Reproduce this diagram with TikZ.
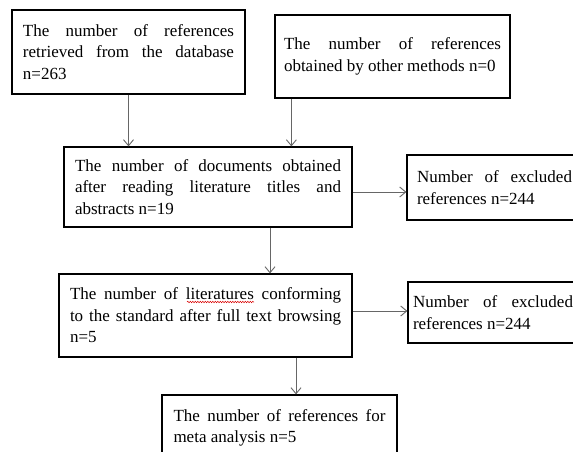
\documentclass[tikz,border=0pt]{standalone}
\usepackage{fontspec}
\setmainfont{Liberation Serif}
\usepackage{tikz}
\usetikzlibrary{arrows.meta,decorations.pathmorphing}
\tikzstyle{blk}=[draw, line width=1.2pt, align=justify, inner xsep=11pt, inner ysep=0pt, font=\fontsize{17}{21.5}\selectfont]
\tikzstyle{flow}=[->, draw=black!60, line width=0.9pt]
\tikzstyle{spell}=[draw=red!85!black, line width=0.5pt, decorate, decoration={snake, amplitude=0.7pt, segment length=2.5pt}]

\begin{document}
\begin{tikzpicture}[x=1pt,y=-1pt,>={Straight Barb[length=6pt,width=10pt]}]
    \useasboundingbox (0,0) rectangle (573,452);
    \clip (0,0) rectangle (573,452);
    \node [blk, text width=211pt, minimum height=84pt] (db) at (128.5,52) {The number of references\linebreak retrieved from the database\linebreak n=263};
    \node [blk, text width=217pt, inner xsep=9pt, minimum height=83pt] (other) at (392.5,56.5) {The number of references\linebreak obtained by other methods n=0};
    \node [blk, text width=266pt, minimum height=80pt] (titles) at (208,187) {The number of documents obtained\linebreak after reading literature titles and\linebreak abstracts n=19};
    \node [blk, text width=155pt, inner xsep=10pt, minimum height=65pt] (excl1) at (494.5,187.5) {Number of excluded\linebreak references n=244};
    \node [blk, text width=271pt, minimum height=83pt] (full) at (205.5,315.5) {The number of literatures conforming\linebreak to the standard after full text browsing\linebreak n=5};
    \node [blk, text width=160pt, inner xsep=5pt, minimum height=61pt] (excl2) at (493,312.5) {Number of excluded\linebreak references n=244};
    \node [blk, text width=212pt, inner xsep=11.5pt, minimum height=66pt] (meta) at (279.5,428) {The number of references for\linebreak meta analysis n=5};
    % spell check mark
    \draw[spell] (187,302) -- (254,302);
    % connectors
    \coordinate (o) at ([xshift=17pt]other.south west);
    \coordinate (t) at ([yshift=-5pt]titles.east);
    \coordinate (d) at ([xshift=62pt]titles.south);
    \coordinate (f) at ([yshift=4.5pt]full.east);
    \coordinate (m) at ([xshift=90.5pt]full.south);
    \draw[flow] (db.south) -- (db.south |- titles.north);
    \draw[flow] (o) -- (o |- titles.north);
    \draw[flow] (t) -- (t -| excl1.west);
    \draw[flow] (d) -- (d |- full.north);
    \draw[flow] (f) -- (f -| excl2.west);
    \draw[flow] (m) -- (m |- meta.north);
\end{tikzpicture}
\end{document}
